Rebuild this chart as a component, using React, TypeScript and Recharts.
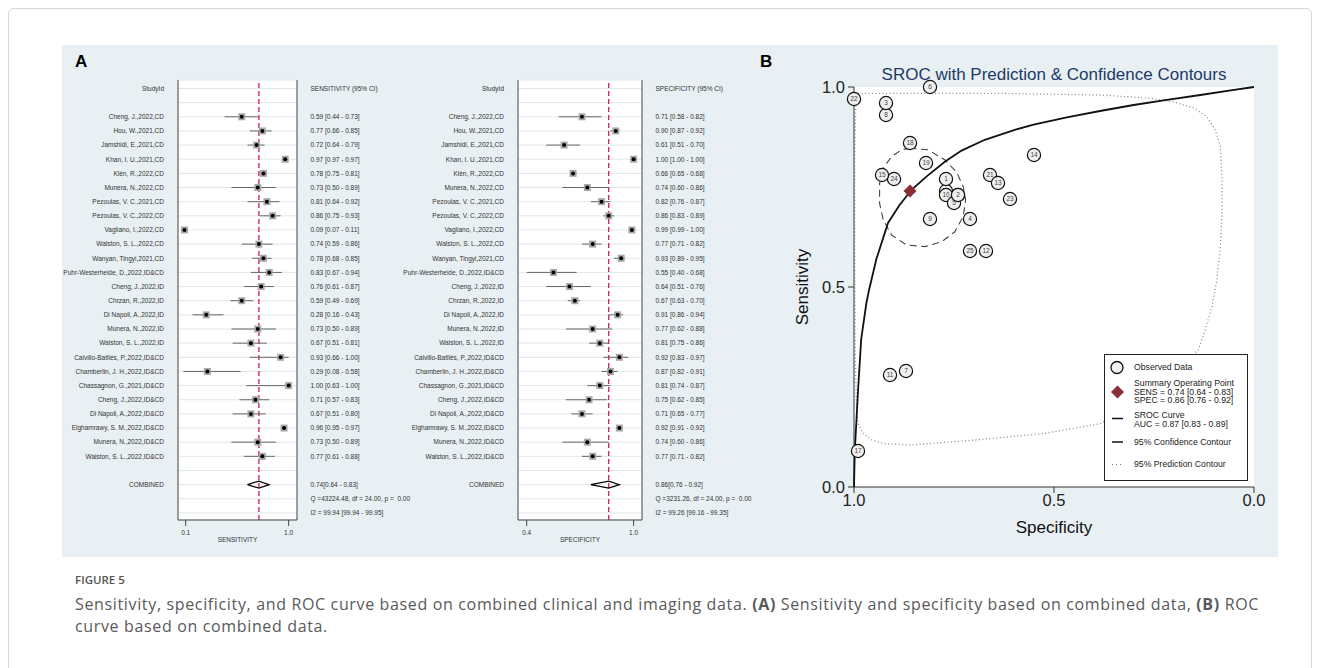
import React from "react"
import {
    ScatterChart,
    Scatter,
    XAxis,
    YAxis,
    CartesianGrid,
    ReferenceLine,
    ErrorBar
} from "recharts"

const FONT = '"Liberation Sans", Arial, sans-serif'

// studies, in forest plot order (top to bottom)
const studyIds = [
    "Cheng, J.,2022,CD",
    "Hou, W.,2021,CD",
    "Jamshidi, E.,2021,CD",
    "Khan, I. U.,2021,CD",
    "Klén, R.,2022,CD",
    "Munera, N.,2022,CD",
    "Pezoulas, V. C.,2021,CD",
    "Pezoulas, V. C.,2022,CD",
    "Vagliano, I.,2022,CD",
    "Walston, S. L.,2022,CD",
    "Wanyan, Tingyi,2021,CD",
    "Puhr-Westerheide, D.,2022,ID&CD",
    "Cheng, J.,2022,ID",
    "Chrzan, R.,2022,ID",
    "Di Napoli, A.,2022,ID",
    "Munera, N.,2022,ID",
    "Walston, S. L.,2022,ID",
    "Calvillo-Batllés, P.,2022,ID&CD",
    "Chamberlin, J. H.,2022,ID&CD",
    "Chassagnon, G.,2021,ID&CD",
    "Cheng, J.,2022,ID&CD",
    "Di Napoli, A.,2022,ID&CD",
    "Elghamrawy, S. M.,2022,ID&CD",
    "Munera, N.,2022,ID&CD",
    "Walston, S. L.,2022,ID&CD",
]

const sensEst = [0.59, 0.77, 0.72, 0.97, 0.78, 0.73, 0.81, 0.86, 0.09, 0.74, 0.78, 0.83, 0.76, 0.59, 0.28, 0.73, 0.67, 0.93, 0.29, 1.00, 0.71, 0.67, 0.96, 0.73, 0.77]
const sensLow = [0.44, 0.66, 0.64, 0.97, 0.75, 0.50, 0.64, 0.75, 0.07, 0.59, 0.68, 0.67, 0.61, 0.49, 0.16, 0.50, 0.51, 0.66, 0.08, 0.63, 0.57, 0.51, 0.95, 0.50, 0.61]
const sensHigh = [0.73, 0.85, 0.79, 0.97, 0.81, 0.89, 0.92, 0.93, 0.11, 0.86, 0.85, 0.94, 0.87, 0.69, 0.43, 0.89, 0.81, 1.00, 0.58, 1.00, 0.83, 0.80, 0.97, 0.89, 0.88]

const specEst = [0.71, 0.90, 0.61, 1.00, 0.66, 0.74, 0.82, 0.86, 0.99, 0.77, 0.93, 0.55, 0.64, 0.67, 0.91, 0.77, 0.81, 0.92, 0.87, 0.81, 0.75, 0.71, 0.92, 0.74, 0.77]
const specLow = [0.58, 0.87, 0.51, 1.00, 0.65, 0.60, 0.76, 0.83, 0.99, 0.71, 0.89, 0.40, 0.51, 0.63, 0.86, 0.62, 0.75, 0.83, 0.82, 0.74, 0.62, 0.65, 0.91, 0.60, 0.71]
const specHigh = [0.82, 0.92, 0.70, 1.00, 0.68, 0.86, 0.87, 0.89, 1.00, 0.82, 0.95, 0.68, 0.76, 0.70, 0.94, 0.88, 0.86, 0.97, 0.91, 0.87, 0.85, 0.77, 0.92, 0.86, 0.82]

const sensPooled = [0.74, 0.64, 0.83]
const specPooled = [0.86, 0.76, 0.92]
const sensStats = ["Q =43224.48, df = 24.00, p =  0.00", "I2 = 99.94 [99.94 - 99.95]"]
const specStats = ["Q =3231.26, df = 24.00, p =  0.00", "I2 = 99.26 [99.16 - 99.35]"]

const sensTicks = [0.1, 1.0]
const specTicks = [0.4, 1.0]

// SROC panel
const srocNumbers = [25, 24, 23, 22, 21, 20, 19, 18, 17, 16, 15, 14, 13, 12, 11, 10, 9, 8, 7, 6, 5, 4, 3, 2, 1]
const srocTicks = [1, 0.5, 0]

const curveSpec = [1.0, 0.998, 0.990, 0.982, 0.969, 0.963, 0.944, 0.915, 0.886, 0.856, 0.819, 0.773, 0.731, 0.673, 0.598, 0.551, 0.468, 0.385, 0.301, 0.218, 0.134, 0.05, 0.0]
const curveSens = [0.0, 0.09, 0.24, 0.37, 0.46, 0.49, 0.57, 0.66, 0.705, 0.743, 0.776, 0.813, 0.841, 0.868, 0.893, 0.906, 0.924, 0.94, 0.955, 0.968, 0.98, 0.993, 1.0]

const confSpec = [0.861, 0.815, 0.773, 0.744, 0.727, 0.721, 0.727, 0.748, 0.781, 0.823, 0.869, 0.906, 0.927, 0.936, 0.936, 0.927, 0.906, 0.881, 0.861]
const confSens = [0.847, 0.843, 0.818, 0.788, 0.751, 0.718, 0.676, 0.638, 0.613, 0.601, 0.605, 0.630, 0.668, 0.709, 0.759, 0.797, 0.826, 0.843, 0.847]

const predSpec = [0.990, 0.936, 0.635, 0.385, 0.260, 0.202, 0.152, 0.118, 0.097, 0.084, 0.080, 0.080, 0.084, 0.093, 0.105, 0.122, 0.139, 0.210, 0.297, 0.381, 0.523, 0.690, 0.856, 0.923, 0.956, 0.977, 0.990, 0.994, 0.997, 0.998, 0.998, 0.995, 0.990]
const predSens = [0.984, 0.984, 0.984, 0.980, 0.972, 0.963, 0.948, 0.926, 0.893, 0.851, 0.768, 0.684, 0.601, 0.518, 0.451, 0.393, 0.343, 0.280, 0.218, 0.159, 0.134, 0.118, 0.105, 0.108, 0.118, 0.134, 0.159, 0.201, 0.343, 0.593, 0.843, 0.968, 0.984]

// forest row layout
const HEADER_ROW = -2
const POOLED_ROW = 26
const Q_ROW = 27
const I2_ROW = 28
const ROW_TICKS = Array.from({ length: 31 }, (_, i) => i - 2)
const DIAMOND_HALF = 0.25

const ci = (e: number, l: number, h: number) => `${e.toFixed(2)} [${l.toFixed(2)} - ${h.toFixed(2)}]`

const NoMarker = () => <g />

const StudyMarker = (p: any) => (
    <g>
        <rect x={p.cx - 3.5} y={p.cy - 3.5} width={7} height={7} fill="#a8a8a8" />
        <circle cx={p.cx} cy={p.cy} r={2} fill="#000" />
    </g>
)

// plain svg text ticks so the long study names never wrap
const rowTick = (labels: Map<number, string>, anchor: "start" | "end") => (p: any) => (
    <text
        x={p.x}
        y={p.y}
        dy="0.35em"
        textAnchor={anchor}
        fontSize={6.5}
        fill="#333"
        fontFamily={FONT}
        xmlSpace="preserve"
    >
        {labels.get(p.payload.value) ?? ""}
    </text>
)

const ObservedCircle = (p: any) => (
    <g>
        <circle cx={p.cx} cy={p.cy} r={6.6} fill="#efefef" stroke="#111" strokeWidth={1.2} />
        <text x={p.cx} y={p.cy} dy="0.35em" textAnchor="middle" fontSize={6.5} fill="#444" fontFamily={FONT}>
            {p.payload?.n ?? p.n}
        </text>
    </g>
)

const SummaryDiamond = (p: any) => (
    <polygon
        points={`${p.cx - 6.5},${p.cy} ${p.cx},${p.cy - 6.5} ${p.cx + 6.5},${p.cy} ${p.cx},${p.cy + 6.5}`}
        fill="#8b2c37"
    />
)

interface ForestProps {
    left: number
    width: number
    leftAxisW: number
    rightAxisW: number
    est: number[]
    low: number[]
    high: number[]
    pooled: number[]
    stats: string[]
    header: string
    axisTitle: string
    domain: [number, number]
    ticks: number[]
}

const Forest = ({ left, width, leftAxisW, rightAxisW, est, low, high, pooled, stats, header, axisTitle, domain, ticks }: ForestProps) => {
    const rows = studyIds.map((_, i) => ({ x: est[i], y: i, err: [est[i] - low[i], high[i] - est[i]] }))
    const [pe, pl, ph] = pooled
    const diamond = [
        { x: pl, y: POOLED_ROW },
        { x: pe, y: POOLED_ROW - DIAMOND_HALF },
        { x: ph, y: POOLED_ROW },
        { x: pe, y: POOLED_ROW + DIAMOND_HALF },
        { x: pl, y: POOLED_ROW },
    ]
    const leftLabels = new Map<number, string>([[HEADER_ROW, "StudyId"], [POOLED_ROW, "COMBINED"]])
    studyIds.forEach((s, i) => leftLabels.set(i, s))
    const rightLabels = new Map<number, string>([
        [HEADER_ROW, header],
        [POOLED_ROW, `${pe.toFixed(2)}[${pl.toFixed(2)} - ${ph.toFixed(2)}]`],
        [Q_ROW, stats[0]],
        [I2_ROW, stats[1]],
    ])
    studyIds.forEach((_, i) => rightLabels.set(i, ci(est[i], low[i], high[i])))

    const tickStyle = { fontSize: 6.5, fill: "#333", fontFamily: FONT }

    return (
        <div style={{ position: "absolute", left, top: 45 }}>
            <ScatterChart width={width} height={510} margin={{ top: 35, right: 0, bottom: 0, left: 0 }}>
                <CartesianGrid yAxisId="l" vertical={false} stroke="#dfe8ec" fill="#fff" />
                <XAxis
                    type="number"
                    dataKey="x"
                    domain={domain}
                    ticks={ticks}
                    interval={0}
                    allowDataOverflow
                    height={35}
                    tickSize={6}
                    tickMargin={4}
                    stroke="#444"
                    tick={tickStyle}
                    tickFormatter={(v: number) => v.toFixed(1)}
                    label={{ value: axisTitle, position: "insideBottom", offset: 13, fontSize: 6.5, fill: "#333", fontFamily: FONT }}
                />
                <YAxis
                    yAxisId="l"
                    type="number"
                    dataKey="y"
                    domain={[-2.6, 28.5]}
                    reversed
                    ticks={ROW_TICKS}
                    interval={0}
                    width={leftAxisW}
                    tickLine={false}
                    tickSize={0}
                    tickMargin={14}
                    stroke="#444"
                    tick={rowTick(leftLabels, "end")}
                />
                <YAxis
                    yAxisId="r"
                    orientation="right"
                    type="number"
                    dataKey="y"
                    domain={[-2.6, 28.5]}
                    allowDataOverflow
                    reversed
                    ticks={ROW_TICKS}
                    interval={0}
                    width={rightAxisW}
                    tickLine={false}
                    tickSize={0}
                    tickMargin={13.5}
                    stroke="#444"
                    tick={rowTick(rightLabels, "start")}
                />
                <ReferenceLine yAxisId="l" x={pe} stroke="#d62a5c" strokeDasharray="5 3" strokeWidth={1.4} />
                <Scatter yAxisId="l" data={rows} shape={StudyMarker} isAnimationActive={false}>
                    <ErrorBar dataKey="err" direction="x" width={0} stroke="#666" strokeWidth={1} />
                </Scatter>
                <Scatter
                    yAxisId="l"
                    data={diamond}
                    shape={NoMarker}
                    line={{ stroke: "#000", strokeWidth: 1.2 }}
                    isAnimationActive={false}
                />
            </ScatterChart>
        </div>
    )
}

const Sroc = () => {
    const observed = studyIds.map((_, i) => ({ x: specEst[i], y: sensEst[i], n: srocNumbers[i] }))
    const curve = curveSpec.map((s, i) => ({ x: s, y: curveSens[i] }))
    const conf = confSpec.map((s, i) => ({ x: s, y: confSens[i] }))
    const pred = predSpec.map((s, i) => ({ x: s, y: predSens[i] }))
    const summary = [{ x: specPooled[0], y: sensPooled[0] }]
    const tickStyle = { fontSize: 16.5, fill: "#222", fontFamily: FONT }

    return (
        <div style={{ position: "absolute", left: 760, top: 45 }}>
            <ScatterChart width={510} height={510} margin={{ top: 42, right: 16, bottom: 0, left: 0 }}>
                <CartesianGrid fill="#fff" horizontal={false} vertical={false} />
                <XAxis
                    type="number"
                    dataKey="x"
                    domain={[0, 1]}
                    reversed
                    ticks={srocTicks}
                    interval={0}
                    height={68}
                    tickSize={6}
                    tickMargin={1}
                    stroke="#333"
                    tick={tickStyle}
                    tickFormatter={(v: number) => v.toFixed(1)}
                    label={{ value: "Specificity", position: "insideBottom", offset: 22.5, fontSize: 17, fill: "#111", fontFamily: FONT }}
                />
                <YAxis
                    type="number"
                    dataKey="y"
                    domain={[0, 1]}
                    ticks={srocTicks}
                    interval={0}
                    width={94}
                    tickSize={6}
                    tickMargin={3}
                    stroke="#333"
                    tick={tickStyle}
                    tickFormatter={(v: number) => v.toFixed(1)}
                    label={{
                        value: "Sensitivity",
                        angle: -90,
                        position: "insideLeft",
                        offset: 41.5,
                        fontSize: 17,
                        fill: "#111",
                        fontFamily: FONT,
                        style: { textAnchor: "middle" },
                    }}
                />
                <Scatter
                    data={pred}
                    shape={NoMarker}
                    line={{ stroke: "#8a8a8a", strokeWidth: 1.3, strokeDasharray: "1 2.5" }}
                    isAnimationActive={false}
                />
                <Scatter
                    data={conf}
                    shape={NoMarker}
                    line={{ stroke: "#444", strokeWidth: 1.1, strokeDasharray: "7 4.5" }}
                    isAnimationActive={false}
                />
                <Scatter
                    data={curve}
                    shape={NoMarker}
                    line={{ stroke: "#111", strokeWidth: 1.8 }}
                    isAnimationActive={false}
                />
                <Scatter data={observed} shape={ObservedCircle} isAnimationActive={false} />
                <Scatter data={summary} shape={SummaryDiamond} isAnimationActive={false} />
            </ScatterChart>
        </div>
    )
}

const SrocLegend = () => (
    <div
        style={{
            position: "absolute",
            left: 1104,
            top: 354,
            width: 142,
            height: 125,
            border: "1px solid #222",
            background: "#fff",
            fontFamily: FONT,
            fontSize: 8.7,
            lineHeight: "8.7px",
            color: "#222",
        }}
    >
        <svg width={142} height={125} style={{ position: "absolute", left: 0, top: 0 }}>
            <circle cx={12} cy={12.5} r={6} fill="#efefef" stroke="#111" strokeWidth={1.3} />
            <polygon points="6,37 12.5,30.5 19,37 12.5,43.5" fill="#8b2c37" />
            <line x1={7} x2={18} y1={63.5} y2={63.5} stroke="#111" strokeWidth={1.5} />
            <line x1={7} x2={18} y1={87} y2={87} stroke="#111" strokeWidth={1.5} />
            <line x1={7} x2={18} y1={109.5} y2={109.5} stroke="#777" strokeWidth={1.2} strokeDasharray="1 3" />
        </svg>
        <div style={{ position: "absolute", left: 29, top: 8 }}>Observed Data</div>
        <div style={{ position: "absolute", left: 29, top: 24 }}>
            Summary Operating Point<br />SENS = 0.74 [0.64 - 0.83]<br />SPEC = 0.86 [0.76 - 0.92]
        </div>
        <div style={{ position: "absolute", left: 29, top: 56 }}>
            SROC Curve<br />AUC = 0.87 [0.83 - 0.89]
        </div>
        <div style={{ position: "absolute", left: 29, top: 82.5 }}>95% Confidence Contour</div>
        <div style={{ position: "absolute", left: 29, top: 105 }}>95% Prediction Contour</div>
    </div>
)

export default function App() {
    return (
        <div style={{ position: "absolute", left: 0, top: 0, width: 1320, height: 668, overflow: "hidden", background: "#fff" }}>
            <div
                style={{
                    position: "absolute",
                    left: 8,
                    top: 8,
                    width: 1302,
                    height: 700,
                    border: "1px solid #d6d6d6",
                    borderRadius: 6,
                }}
            />
            <div style={{ position: "absolute", left: 62, top: 45, width: 1216, height: 512, background: "#e8f0f3" }} />

            <div style={{ position: "absolute", left: 75, top: 52, fontFamily: FONT, fontWeight: 700, fontSize: 17, color: "#000" }}>A</div>
            <div style={{ position: "absolute", left: 760, top: 52, fontFamily: FONT, fontWeight: 700, fontSize: 17, color: "#000" }}>B</div>

            <Forest
                left={62}
                width={355}
                leftAxisW={116}
                rightAxisW={120}
                est={sensEst}
                low={sensLow}
                high={sensHigh}
                pooled={sensPooled}
                stats={sensStats}
                header="SENSITIVITY (95% CI)"
                axisTitle="SENSITIVITY"
                domain={[0.033, 1.073]}
                ticks={sensTicks}
            />
            <Forest
                left={400}
                width={360}
                leftAxisW={118}
                rightAxisW={118}
                est={specEst}
                low={specLow}
                high={specHigh}
                pooled={specPooled}
                stats={specStats}
                header="SPECIFICITY (95% CI)"
                axisTitle="SPECIFICITY"
                domain={[0.351, 1.047]}
                ticks={specTicks}
            />

            <Sroc />
            <div
                style={{
                    position: "absolute",
                    left: 854,
                    width: 400,
                    top: 65,
                    textAlign: "center",
                    fontFamily: FONT,
                    fontSize: 17,
                    color: "#1e3a68",
                    whiteSpace: "nowrap",
                }}
            >
                SROC with Prediction &amp; Confidence Contours
            </div>
            <SrocLegend />

            <div
                style={{
                    position: "absolute",
                    left: 75,
                    top: 572,
                    fontFamily: '"Open Sans", sans-serif',
                    fontWeight: 600,
                    fontSize: 11.5,
                    color: "#555",
                }}
            >
                FIGURE 5
            </div>
            <div
                style={{
                    position: "absolute",
                    left: 75,
                    top: 593,
                    fontFamily: '"Open Sans", sans-serif',
                    fontSize: 16,
                    letterSpacing: 0.65,
                    lineHeight: "22px",
                    color: "#595959",
                    whiteSpace: "nowrap",
                }}
            >
                Sensitivity, specificity, and ROC curve based on combined clinical and imaging data. <b>(A)</b> Sensitivity and
                specificity based on combined data, <b>(B)</b> ROC
                <br />
                curve based on combined data.
            </div>
        </div>
    )
}
